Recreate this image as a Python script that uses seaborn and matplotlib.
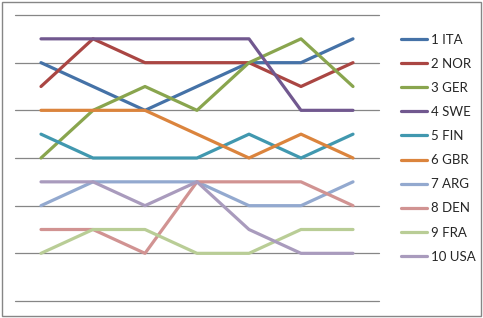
import matplotlib
matplotlib.use("Agg")
import matplotlib.pyplot as plt
from matplotlib.patches import Rectangle
import seaborn as sns
import pandas as pd

# ---- data ----
stages = [1, 2, 3, 4, 5, 6, 7]
teams = ["1 ITA", "2 NOR", "3 GER", "4 SWE", "5 FIN",
         "6 GBR", "7 ARG", "8 DEN", "9 FRA", "10 USA"]
ita = [2, 3, 4, 3, 2, 2, 1]
nor = [3, 1, 2, 2, 2, 3, 2]
ger = [6, 4, 3, 4, 2, 1, 3]
swe = [1, 1, 1, 1, 1, 4, 4]
fin = [5, 6, 6, 6, 5, 6, 5]
gbr = [4, 4, 4, 5, 6, 5, 6]
arg = [8, 7, 7, 7, 8, 8, 7]
den = [9, 9, 10, 7, 7, 7, 8]
fra = [10, 9, 9, 10, 10, 9, 9]
usa = [7, 7, 8, 7, 9, 10, 10]
colors = ["#4572A7", "#AA4643", "#89A54E", "#71588F", "#4198AF",
          "#DB843D", "#93A9CF", "#D19392", "#B9CD96", "#A99BBD"]

series = [ita, nor, ger, swe, fin, gbr, arg, den, fra, usa]
rows = []
for name, vals in zip(teams, series):
    for s, v in zip(stages, vals):
        rows.append({"stage": s, "rank": v, "team": name})
df = pd.DataFrame(rows)

sns.set_style("white")
plt.rcParams["font.family"] = ["Lato", "DejaVu Sans"]

W, H = 483, 318
fig = plt.figure(figsize=(W / 100, H / 100), dpi=100)
ax = fig.add_axes([15 / W, (H - 301) / H, (379 - 15) / W, (301 - 15) / H])

for y in range(0, 13, 2):
    ax.axhline(y, color="#868686", lw=0.9, zorder=0, clip_on=False)

sns.lineplot(data=df, x="stage", y="rank", hue="team", hue_order=teams,
             palette=colors, lw=2.3, ax=ax, legend=True, sort=False)

ax.set_xlim(0.5, 7.5)
ax.set_ylim(12, 0)
ax.set_xticks([])
ax.set_yticks([])
ax.set_xlabel("")
ax.set_ylabel("")
for sp in ax.spines.values():
    sp.set_visible(False)

leg = ax.legend(loc="upper left", bbox_to_anchor=(401 / W, (H - 33.5) / H),
                bbox_transform=fig.transFigure, frameon=False,
                fontsize=9.5, handlelength=1.97, handletextpad=0.3,
                labelspacing=0.92, borderpad=0, borderaxespad=0)
for line in leg.get_lines():
    line.set_linewidth(2.3)

fig.patches.append(Rectangle((2 / W, 2 / H), (W - 4) / W, (H - 4) / H,
                             transform=fig.transFigure, fill=False,
                             edgecolor="#868686", lw=1.0))

fig.savefig("out.png", dpi=100)
